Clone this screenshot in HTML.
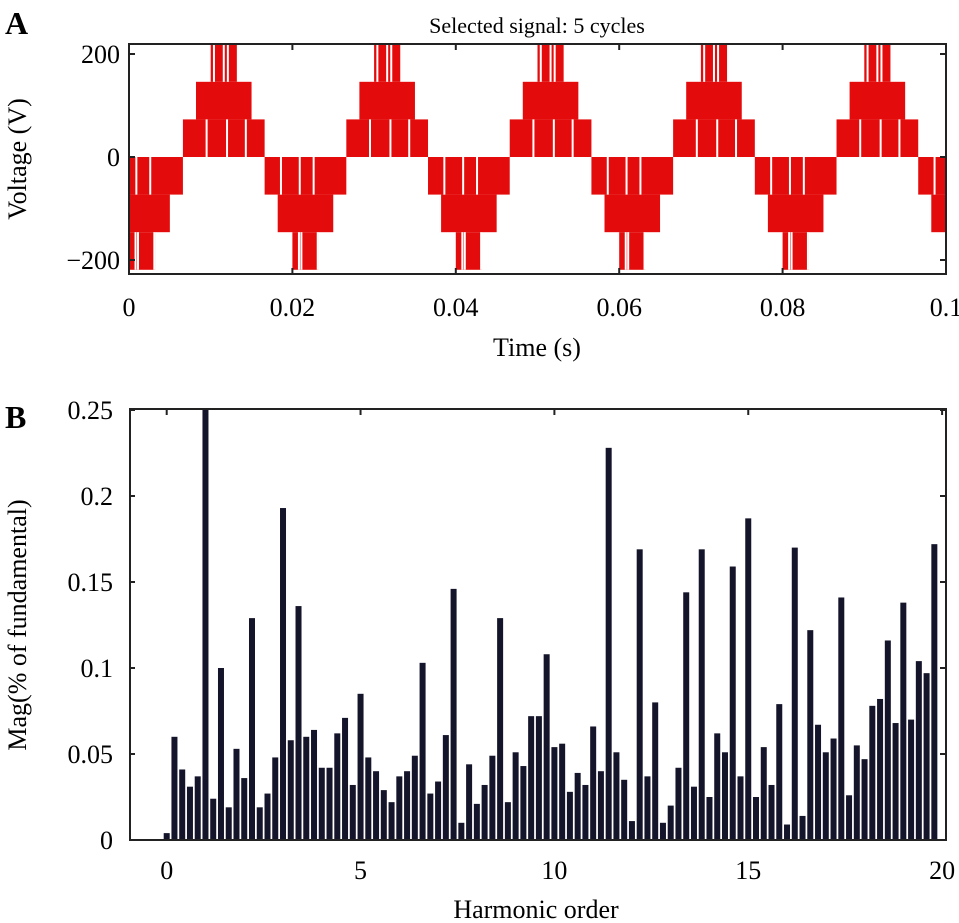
<!DOCTYPE html>
<html><head><meta charset="utf-8"><style>
body{margin:0;background:#fff}
svg{display:block;font-family:"Liberation Serif",serif}
</style></head><body>
<svg id="fig" width="959" height="923" viewBox="0 0 959 923" xmlns="http://www.w3.org/2000/svg">
<text x="5" y="34" font-size="32" font-weight="bold">A</text>
<text x="537" y="33" font-size="22" text-anchor="middle">Selected signal: 5 cycles</text>
<g id="topChart"></g>
<text x="537" y="356" font-size="26" text-anchor="middle">Time (s)</text>
<text transform="translate(26,159) rotate(-90)" font-size="26" text-anchor="middle">Voltage (V)</text>
<text x="5" y="428" font-size="32" font-weight="bold">B</text>
<g id="botChart"></g>
<text x="536" y="918" font-size="26" text-anchor="middle">Harmonic order</text>
<text transform="translate(26,625) rotate(-90)" font-size="26" text-anchor="middle">Mag(% of fundamental)</text>
</svg>
<script>
// ---- top chart data ----
const timeTicks=[0,0.02,0.04,0.06,0.08,0.1];
const timeTickLabels=["0","0.02","0.04","0.06","0.08","0.1"];
const voltTicks=[200,0,-200];
const voltTickLabels=["200","0","\u2212200"];
const stepLevels=[73,146,219];
const stepStarts=[0,0.0016,0.0034];
const halfCycle=0.01;
const firstRise=0.0066;
const posNotches=[0.0029,0.0054,0.0077];
const topNotches=[0.0038,0.0050,0.0055];
const negNotches=[0.0020,0.0043,0.0060];
const negDeepNotches=[0.0042,0.0045,0.0065];
// ---- bottom chart data ----
const harmStep=0.2;
const magnitudes=[0.004,0.060,0.041,0.031,0.037,0.30,0.024,0.100,0.019,0.053,
0.036,0.129,0.019,0.027,0.048,0.193,0.058,0.136,0.060,0.064,
0.042,0.042,0.062,0.071,0.032,0.085,0.048,0.040,0.029,0.022,
0.037,0.040,0.049,0.103,0.027,0.034,0.061,0.146,0.010,0.044,
0.021,0.032,0.049,0.129,0.022,0.051,0.043,0.072,0.072,0.108,
0.054,0.056,0.028,0.039,0.032,0.066,0.040,0.228,0.051,0.035,
0.011,0.169,0.037,0.080,0.010,0.020,0.042,0.144,0.031,0.169,
0.025,0.062,0.051,0.159,0.037,0.187,0.025,0.054,0.032,0.079,
0.009,0.170,0.014,0.122,0.067,0.051,0.059,0.141,0.026,0.055,
0.047,0.078,0.082,0.116,0.068,0.138,0.070,0.104,0.097,0.172];
const harmTicks=[0,5,10,15,20];
const magTicks=[0,0.05,0.1,0.15,0.2,0.25];
const magTickLabels=["0","0.05","0.1","0.15","0.2","0.25"];

const NS="http://www.w3.org/2000/svg";
function mk(tag,attrs,parent){const e=document.createElementNS(NS,tag);for(const k in attrs)e.setAttribute(k,attrs[k]);parent.appendChild(e);return e;}

// top chart
const T={x0:129,x1:946,y0:44,y1:274};
const tx=t=>T.x0+t/0.1*(T.x1-T.x0);
const vy=v=>157-v/200*103;
const topG=document.getElementById('topChart');
const cp=mk('clipPath',{id:'cpTop'},topG);
mk('rect',{x:T.x0,y:T.y0,width:T.x1-T.x0,height:T.y1-T.y0},cp);
const wave=mk('g',{'clip-path':'url(#cpTop)'},topG);


for(let h=-1;h<10;h++){
  const s=firstRise+h*halfCycle, sign=(h%2===0)?1:-1;
  for(let k=0;k<stepLevels.length;k++){
    const a=s+stepStarts[k], b=s+halfCycle-stepStarts[k];
    const lo=k===0?0:stepLevels[k-1], hi=stepLevels[k];
    const yA=vy(sign*lo), yB=vy(sign*hi);
    const r=mk('rect',{x:tx(a),y:Math.min(yA,yB),width:tx(b)-tx(a),height:Math.abs(yA-yB),fill:'#e30b0b'},wave);
    
    
  }
  const n1=sign>0?posNotches:negNotches, n3=sign>0?topNotches:negDeepNotches;
  n1.forEach(o=>{const l=mk('line',{x1:tx(s+o),x2:tx(s+o),y1:vy(0),y2:vy(sign*stepLevels[0]),stroke:'#fff','stroke-width':2},wave);
    
    });
  n3.forEach(o=>{const l=mk('line',{x1:tx(s+o),x2:tx(s+o),y1:vy(sign*stepLevels[1]),y2:vy(sign*stepLevels[2]),stroke:'#fff','stroke-width':2},wave);
    
    });
}
const tf=mk('rect',{x:T.x0,y:T.y0,width:T.x1-T.x0,height:T.y1-T.y0,fill:'none',stroke:'#222','stroke-width':2},topG);


timeTicks.forEach((t,i)=>{
  mk('line',{x1:tx(t),x2:tx(t),y1:T.y1,y2:T.y1-6,stroke:'#222','stroke-width':2},topG);
  mk('line',{x1:tx(t),x2:tx(t),y1:T.y0,y2:T.y0+6,stroke:'#222','stroke-width':2},topG);
  const l=mk('text',{x:tx(t),y:316,'font-size':26,'text-anchor':'middle'},topG);l.textContent=timeTickLabels[i];
  
  
});
voltTicks.forEach((v,i)=>{
  mk('line',{x1:T.x0,x2:T.x0+6,y1:vy(v),y2:vy(v),stroke:'#222','stroke-width':2},topG);
  mk('line',{x1:T.x1,x2:T.x1-6,y1:vy(v),y2:vy(v),stroke:'#222','stroke-width':2},topG);
  const l=mk('text',{x:T.x0-9,y:vy(v)+9,'font-size':26,'text-anchor':'end'},topG);l.textContent=voltTickLabels[i];
  
  
});

// bottom chart
const B={x0:130,x1:946,y0:409,y1:840};
const hx=h=>166.7+h*38.77;
const my=m=>B.y1-m/0.25*(B.y1-410);
const botG=document.getElementById('botChart');
const cp2=mk('clipPath',{id:'cpBot'},botG);
mk('rect',{x:B.x0,y:B.y0,width:B.x1-B.x0,height:B.y1-B.y0},cp2);
const bars=mk('g',{'clip-path':'url(#cpBot)'},botG);


magnitudes.forEach((m,i)=>{
  const cx=hx(i*harmStep);
  const r=mk('rect',{x:cx-3,y:my(m),width:6,height:B.y1-my(m),fill:'#14142a'},bars);
  
  
});
const bf=mk('rect',{x:B.x0,y:B.y0,width:B.x1-B.x0,height:B.y1-B.y0,fill:'none',stroke:'#222','stroke-width':2},botG);


harmTicks.forEach(h=>{
  mk('line',{x1:hx(h),x2:hx(h),y1:B.y0,y2:B.y0+6,stroke:'#222','stroke-width':2},botG);
  const l=mk('text',{x:hx(h),y:879,'font-size':26,'text-anchor':'middle'},botG);l.textContent=String(h);
  
  
});
magTicks.forEach((m,i)=>{
  mk('line',{x1:B.x1,x2:B.x1-6,y1:my(m),y2:my(m),stroke:'#222','stroke-width':2},botG);
  mk('line',{x1:B.x0,x2:B.x0+5,y1:my(m),y2:my(m),stroke:'#222','stroke-width':2},botG);
  const l=mk('text',{x:B.x0-17,y:my(m)+9,'font-size':26,'text-anchor':'end'},botG);l.textContent=magTickLabels[i];
  
  
});
</script>
</body></html>
